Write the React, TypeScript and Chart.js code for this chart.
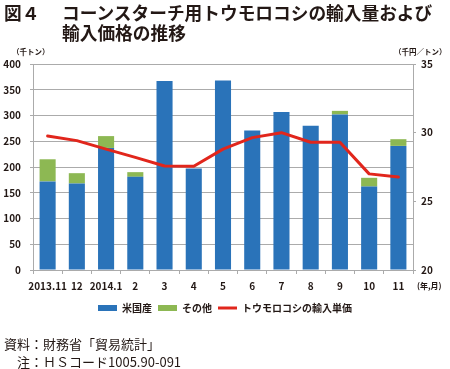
import React, { useEffect, useRef } from "react";
import { Chart, registerables } from "chart.js";

Chart.register(...registerables);

const categories = ["2013.11", "12", "2014.1", "2", "3", "4", "5", "6", "7", "8", "9", "10", "11"];
const usValues = [172, 168, 237, 181, 367, 197, 368, 271, 307, 280, 302, 162, 241];
const otherValues = [43, 20, 23, 9, 0, 0, 0, 0, 0, 0, 7, 17, 13];
const priceValues = [29.76, 29.42, 28.8, 28.2, 27.57, 27.55, 28.8, 29.64, 30.0, 29.3, 29.3, 27.0, 26.77];
const leftTickRange = [0, 400, 50];
const rightTickRange = [20, 35, 5];
const seriesLabels = ["米国産", "その他", "トウモロコシの輸入単価"];

const BLUE = "#2a73b9";
const GREEN = "#8db853";
const RED = "#e1261c";
const GRID = "#ababab";
const TEXT = "#231815";
const FONT = "'Noto Sans CJK JP', 'Noto Sans', sans-serif";

export default function App() {
  const ref = useRef<HTMLCanvasElement | null>(null);

  useEffect(() => {
    if (!ref.current) return;
    const tickFont = { family: FONT, size: 10, weight: "bold" as const };
    const chart = new Chart(ref.current, {
      type: "bar",
      data: {
        labels: categories,
        datasets: [
          {
            type: "bar",
            label: seriesLabels[0],
            data: usValues,
            backgroundColor: BLUE,
            borderWidth: 0,
            yAxisID: "y",
            order: 2,
            barPercentage: 0.55,
            categoryPercentage: 1,
          },
          {
            type: "bar",
            label: seriesLabels[1],
            data: otherValues,
            backgroundColor: GREEN,
            borderWidth: 0,
            yAxisID: "y",
            order: 2,
            barPercentage: 0.55,
            categoryPercentage: 1,
          },
          {
            type: "line",
            label: seriesLabels[2],
            data: priceValues,
            borderColor: RED,
            backgroundColor: RED,
            borderWidth: 3,
            pointRadius: 0,
            pointBorderWidth: 3,
            tension: 0,
            borderJoinStyle: "round",
            borderCapStyle: "round",
            yAxisID: "y1",
            order: 1,
          } as any,
        ],
      },
      options: {
        animation: false,
        responsive: false,
        devicePixelRatio: 1,
        layout: { padding: { top: 64, left: 0, right: 0, bottom: 46 } },
        plugins: {
          tooltip: { enabled: false },
          legend: {
            position: "bottom",
            labels: {
              usePointStyle: true,
              pointStyleWidth: 19,
              boxHeight: 6,
              padding: 6,
              color: TEXT,
              font: { family: FONT, size: 10, weight: "bold" },
              generateLabels: (c: any) => {
                const base = Chart.defaults.plugins.legend.labels.generateLabels(c);
                return base
                  .map((it: any) => {
                    const ds: any = c.data.datasets[it.datasetIndex];
                    if (ds.type === "line") {
                      return { ...it, pointStyle: "line", lineWidth: 3, strokeStyle: RED, fillStyle: RED };
                    }
                    return { ...it, pointStyle: "rect", lineWidth: 0 };
                  })
                  .sort((a: any, b: any) => a.datasetIndex - b.datasetIndex);
              },
            },
          },
        },
        scales: {
          x: {
            stacked: true,
            grid: { offset: true, drawOnChartArea: false, drawTicks: true, tickLength: 4, color: GRID },
            border: { display: true, color: GRID },
            ticks: { font: tickFont, color: TEXT, padding: 6, maxRotation: 0, autoSkip: false },
            afterFit: (s: any) => {
              s.height = 27;
            },
          },
          y: {
            position: "left",
            stacked: true,
            min: leftTickRange[0],
            max: leftTickRange[1],
            ticks: { stepSize: leftTickRange[2], font: tickFont, color: TEXT, padding: 9 },
            grid: { color: GRID, tickLength: 3 },
            border: { display: true, color: GRID },
            afterFit: (s: any) => {
              s.width = 33;
            },
          },
          y1: {
            position: "right",
            min: rightTickRange[0],
            max: rightTickRange[1],
            ticks: { stepSize: rightTickRange[2], font: tickFont, color: TEXT, padding: 5 },
            grid: { drawOnChartArea: false, color: GRID, tickLength: 3 },
            border: { display: true, color: GRID },
            afterFit: (s: any) => {
              s.width = 37;
            },
          },
        },
      },
    });
    return () => chart.destroy();
  }, []);

  const abs = (extra: React.CSSProperties): React.CSSProperties => ({
    position: "absolute",
    fontFamily: FONT,
    color: TEXT,
    whiteSpace: "nowrap",
    margin: 0,
    ...extra,
  });

  return (
    <div style={{ position: "absolute", left: 0, top: 0, width: 450, height: 369, background: "#fff" }}>
      <canvas ref={ref} width={450} height={369} style={{ display: "block", width: 450, height: 369 }} />
      <div style={abs({ left: 4, top: 2, fontSize: 17.7, lineHeight: "20px", fontWeight: 700 })}>図４</div>
      <div style={abs({ left: 62, top: 2, fontSize: 17.7, lineHeight: "20px", fontWeight: 700 })}>
        コーンスターチ用トウモロコシの輸入量および
      </div>
      <div style={abs({ left: 62, top: 22, fontSize: 17.7, lineHeight: "20px", fontWeight: 700 })}>輸入価格の推移</div>
      <div style={abs({ left: 12, top: 46, fontSize: 7.5, lineHeight: "12px", fontWeight: 700 })}>（千トン）</div>
      <div style={abs({ left: 394, top: 46, fontSize: 7.5, lineHeight: "12px", fontWeight: 700 })}>（千円／トン）</div>
      <div style={abs({ left: 417, top: 280, fontSize: 8, lineHeight: "12px", fontWeight: 700 })}>(年,月)</div>
      <div style={abs({ left: 4, top: 336, fontSize: 13, lineHeight: "16px", fontWeight: 400 })}>資料：財務省「貿易統計」</div>
      <div style={abs({ left: 17, top: 354, fontSize: 13, lineHeight: "16px", fontWeight: 400 })}>注：ＨＳコード1005.90-091</div>
    </div>
  );
}
